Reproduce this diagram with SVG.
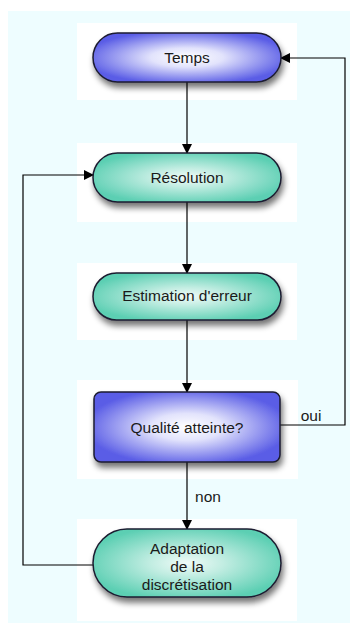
<svg xmlns="http://www.w3.org/2000/svg" width="350" height="626" viewBox="0 0 350 626">
<defs>
<radialGradient id="gBlue" cx="50%" cy="50%" r="55%">
<stop offset="0" stop-color="#ffffff"/>
<stop offset="0.35" stop-color="#e2e3fc"/>
<stop offset="1" stop-color="#5a5de6"/>
</radialGradient>
<radialGradient id="gTeal" cx="50%" cy="50%" r="55%">
<stop offset="0" stop-color="#f0fbf8"/>
<stop offset="0.35" stop-color="#c2ede2"/>
<stop offset="1" stop-color="#5ccfb3"/>
</radialGradient>
<filter id="sh" x="-20%" y="-30%" width="140%" height="170%">
<feGaussianBlur in="SourceAlpha" stdDeviation="3"/>
<feOffset dx="2" dy="5" result="b"/>
<feComponentTransfer><feFuncA type="linear" slope="0.55"/></feComponentTransfer>
<feMerge><feMergeNode/><feMergeNode in="SourceGraphic"/></feMerge>
</filter>
<marker id="arr" markerWidth="10" markerHeight="10" refX="9" refY="5" orient="auto" markerUnits="userSpaceOnUse">
<path d="M0,0 L10,5 L0,10 Z" fill="#000"/>
</marker>
</defs>
<style>
.node{stroke:#1c1c30;stroke-width:1.5;filter:url(#sh)}
.blue{fill:url(#gBlue)}
.teal{fill:url(#gTeal)}
text{font-family:"Liberation Sans",Arial,sans-serif;font-size:15.5px;fill:#1a1a1a;text-anchor:middle}
.edge{fill:none;stroke:#000;stroke-width:1.2}
.bg{fill:#ffffff}
</style>
<rect x="8" y="11" width="342" height="612" fill="#eefdff"/>
<g id="backgrounds">
<rect class="bg" x="77" y="23" width="220" height="77"/>
<rect class="bg" x="77" y="143" width="220" height="79"/>
<rect class="bg" x="77" y="263" width="220" height="77"/>
<rect class="bg" x="77" y="380" width="221" height="99"/>
<rect class="bg" x="77" y="519" width="220" height="102"/>
</g>
<g id="connectors">
<line class="edge" x1="187" y1="82" x2="187" y2="153" marker-end="url(#arr)"/>
<line class="edge" x1="187" y1="202" x2="187" y2="273" marker-end="url(#arr)"/>
<line class="edge" x1="187" y1="320" x2="187" y2="392" marker-end="url(#arr)"/>
<line class="edge" x1="187" y1="462" x2="187" y2="529" marker-end="url(#arr)"/>
<polyline class="edge" points="280,425 345,425 345,58 281,58" marker-end="url(#arr)"/>
<polyline class="edge" points="93,565 23,565 23,175 93,175" marker-end="url(#arr)"/>
<text x="311" y="421">oui</text>
<text x="208" y="502">non</text>
</g>
<g id="temps">
<rect class="node blue" x="93" y="33" width="188" height="49" rx="24.5"/>
<text x="187" y="63">Temps</text>
</g>
<g id="resolution">
<rect class="node teal" x="93" y="153" width="188" height="49" rx="24.5"/>
<text x="187" y="183">Résolution</text>
</g>
<g id="estimation">
<rect class="node teal" x="93" y="273" width="188" height="47" rx="23.5"/>
<text x="187" y="301">Estimation d'erreur</text>
</g>
<g id="qualite">
<rect class="node blue" x="94" y="392" width="186" height="70" rx="7"/>
<text x="187" y="433">Qualité atteinte?</text>
</g>
<g id="adaptation">
<rect class="node teal" x="93" y="529" width="188" height="68" rx="34"/>
<text x="187" y="554">Adaptation</text>
<text x="187" y="572">de la</text>
<text x="187" y="590">discrétisation</text>
</g>
</svg>
